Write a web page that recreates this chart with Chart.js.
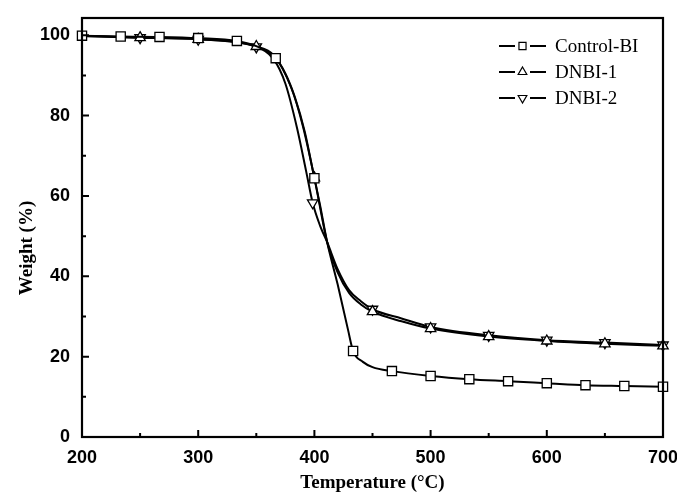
<!DOCTYPE html>
<html>
<head>
<meta charset="utf-8">
<script src="https://cdn.jsdelivr.net/npm/chart.js@4.4.1/dist/chart.umd.min.js"></script>
<style>
  html, body { margin: 0; padding: 0; background: #fff; }
  #wrap { width: 677px; height: 496px; position: relative; }
</style>
</head>
<body>
<div id="wrap"><canvas id="c" width="677" height="496"></canvas></div>
<script>
// ---- Data ----
const seriesNames = ["Control-BI", "DNBI-1", "DNBI-2"];

const controlT = [200, 233.3, 266.7, 300, 333.3, 350, 366.7, 375, 383.3, 391.7, 400, 405, 411, 420, 429, 433.3, 441.7, 450, 466.7, 500, 533.3, 566.7, 600, 633.3, 666.7, 700];
const controlW = [99.9, 99.7, 99.6, 99.3, 98.6, 97.3, 94.3, 90.5, 84.5, 76, 64.4, 57.5, 48.5, 38, 26.6, 21.4, 18.7, 17.4, 16.4, 15.2, 14.4, 13.9, 13.4, 12.9, 12.7, 12.5];
const controlMarks = [200, 233.3, 266.7, 300, 333.3, 366.7, 400, 433.3, 466.7, 500, 533.3, 566.7, 600, 633.3, 666.7, 700];

const dnbi1T = [200, 250, 300, 350, 365, 380, 390, 400, 411, 420, 430, 440, 450, 475, 500, 550, 600, 650, 700];
const dnbi1W = [99.8, 99.4, 99.0, 97.2, 95.0, 87.0, 77.5, 64.5, 48.5, 41.0, 35.8, 33.0, 31.2, 28.8, 27.0, 25.0, 23.9, 23.2, 22.7];

const dnbi2T = [200, 250, 300, 350, 365, 375, 385, 393, 398.5, 405, 411, 420, 430, 440, 450, 475, 500, 550, 600, 650, 700];
const dnbi2W = [99.8, 99.4, 99.0, 97.1, 94.0, 88.0, 77.0, 66.0, 58.3, 52.5, 48.5, 41.8, 36.5, 33.8, 31.8, 29.5, 27.4, 25.3, 24.1, 23.5, 22.9];

const dnbiMarks = [250, 300, 350, 400, 450, 500, 550, 600, 650, 700];
const dnbi2Marks = [250, 300, 350, 398.5, 450, 500, 550, 600, 650, 700];

const xMajorTicks = [200, 300, 400, 500, 600, 700];
const xMinorTicks = [250, 350, 450, 550, 650];
const yMajorTicks = [0, 20, 40, 60, 80, 100];
const yMinorTicks = [10, 30, 50, 70, 90];

const xTitle = "Temperature (\u00B0C)";
const yTitle = "Weight (%)";

// ---- Build ----
function pts(T, W) { return T.map((t, i) => ({ x: t, y: W[i] })); }

function markerRadius(marks, r) {
  return (ctx) => (ctx.raw && marks.includes(ctx.raw.x)) ? r : 0;
}

const common = {
  showLine: true,
  borderColor: '#000',
  borderWidth: 2,
  pointBackgroundColor: '#fff',
  pointBorderColor: '#000',
  pointBorderWidth: 1.3,
  pointHoverRadius: 0,
  cubicInterpolationMode: 'monotone',
  clip: false
};

const datasets = [
  Object.assign({}, common, {
    label: seriesNames[0],
    data: pts(controlT, controlW),
    pointStyle: 'rect',
    pointRadius: markerRadius(controlMarks, 6.5)
  }),
  Object.assign({}, common, {
    label: seriesNames[1],
    data: pts(dnbi1T, dnbi1W),
    pointStyle: 'triangle',
    pointRadius: markerRadius(dnbiMarks, 6)
  }),
  Object.assign({}, common, {
    label: seriesNames[2],
    data: pts(dnbi2T, dnbi2W),
    pointStyle: 'triangle',
    rotation: 180,
    pointRotation: 180,
    pointRadius: markerRadius(dnbi2Marks, 6)
  })
];

const framePlugin = {
  id: 'frame',
  afterDraw(chart) {
    const { ctx, chartArea: a, scales } = chart;
    const xs = scales.x, ys = scales.y;
    ctx.save();
    ctx.strokeStyle = '#000';
    ctx.lineWidth = 2.2;
    ctx.strokeRect(a.left, a.top, a.right - a.left, a.bottom - a.top);
    // inward ticks
    ctx.lineWidth = 2;
    ctx.beginPath();
    xMajorTicks.forEach(v => { const p = xs.getPixelForValue(v); ctx.moveTo(p, a.bottom); ctx.lineTo(p, a.bottom - 7); });
    xMinorTicks.forEach(v => { const p = xs.getPixelForValue(v); ctx.moveTo(p, a.bottom); ctx.lineTo(p, a.bottom - 4); });
    yMajorTicks.forEach(v => { const p = ys.getPixelForValue(v); ctx.moveTo(a.left, p); ctx.lineTo(a.left + 7, p); });
    yMinorTicks.forEach(v => { const p = ys.getPixelForValue(v); ctx.moveTo(a.left, p); ctx.lineTo(a.left + 4, p); });
    ctx.stroke();

    // axis titles
    ctx.fillStyle = '#000';
    ctx.font = 'bold 19px "Liberation Serif", "Times New Roman", serif';
    ctx.textAlign = 'center';
    ctx.textBaseline = 'middle';
    ctx.fillText(xTitle, (a.left + a.right) / 2, 483);
    ctx.save();
    ctx.translate(27, 248);
    ctx.rotate(-Math.PI / 2);
    ctx.fillText(yTitle, 0, 0);
    ctx.restore();

    // legend
    const rows = [46, 72, 98];
    const styles = [
      { ps: 'rect', r: 5, rot: 0 },
      { ps: 'triangle', r: 5, rot: 0 },
      { ps: 'triangle', r: 5, rot: 180 }
    ];
    ctx.font = '19px "Liberation Serif", "Times New Roman", serif';
    ctx.textAlign = 'left';
    seriesNames.forEach((name, i) => {
      const y = rows[i];
      ctx.strokeStyle = '#000';
      ctx.lineWidth = 2;
      ctx.beginPath();
      ctx.moveTo(499, y); ctx.lineTo(515, y);
      ctx.moveTo(530, y); ctx.lineTo(546, y);
      ctx.stroke();
      ctx.lineWidth = 1.2;
      ctx.fillStyle = '#fff';
      Chart.helpers.drawPoint(ctx, { pointStyle: styles[i].ps, rotation: styles[i].rot, radius: styles[i].r, borderWidth: 1.2 }, 522.5, y);
      ctx.fillStyle = '#000';
      ctx.fillText(name, 555, y + 1);
    });
    ctx.restore();
  }
};

new Chart(document.getElementById('c'), {
  type: 'scatter',
  data: { datasets },
  options: {
    responsive: false,
    animation: false,
    devicePixelRatio: 1,
    layout: { padding: { left: 0, right: 14, top: 18, bottom: 0 } },
    plugins: { legend: { display: false }, tooltip: { enabled: false } },
    scales: {
      x: {
        type: 'linear', min: 200, max: 700,
        afterFit(s) { s.height = 59; s.paddingLeft = 0; s.paddingRight = 0; },
        afterBuildTicks(s) { s.ticks = xMajorTicks.map(v => ({ value: v })); },
        grid: { display: false, drawTicks: false },
        border: { display: false },
        ticks: { color: '#000', padding: 10, font: { family: '"Liberation Sans", Arial, sans-serif', size: 18, weight: 'bold' } }
      },
      y: {
        type: 'linear', min: 0, max: 104.3,
        afterFit(s) { s.width = 82; s.paddingTop = 0; s.paddingBottom = 0; },
        afterBuildTicks(s) { s.ticks = yMajorTicks.map(v => ({ value: v })); },
        grid: { display: false, drawTicks: false },
        border: { display: false },
        ticks: { color: '#000', padding: 12, font: { family: '"Liberation Sans", Arial, sans-serif', size: 18, weight: 'bold' } }
      }
    }
  },
  plugins: [framePlugin]
});
</script>
</body>
</html>
